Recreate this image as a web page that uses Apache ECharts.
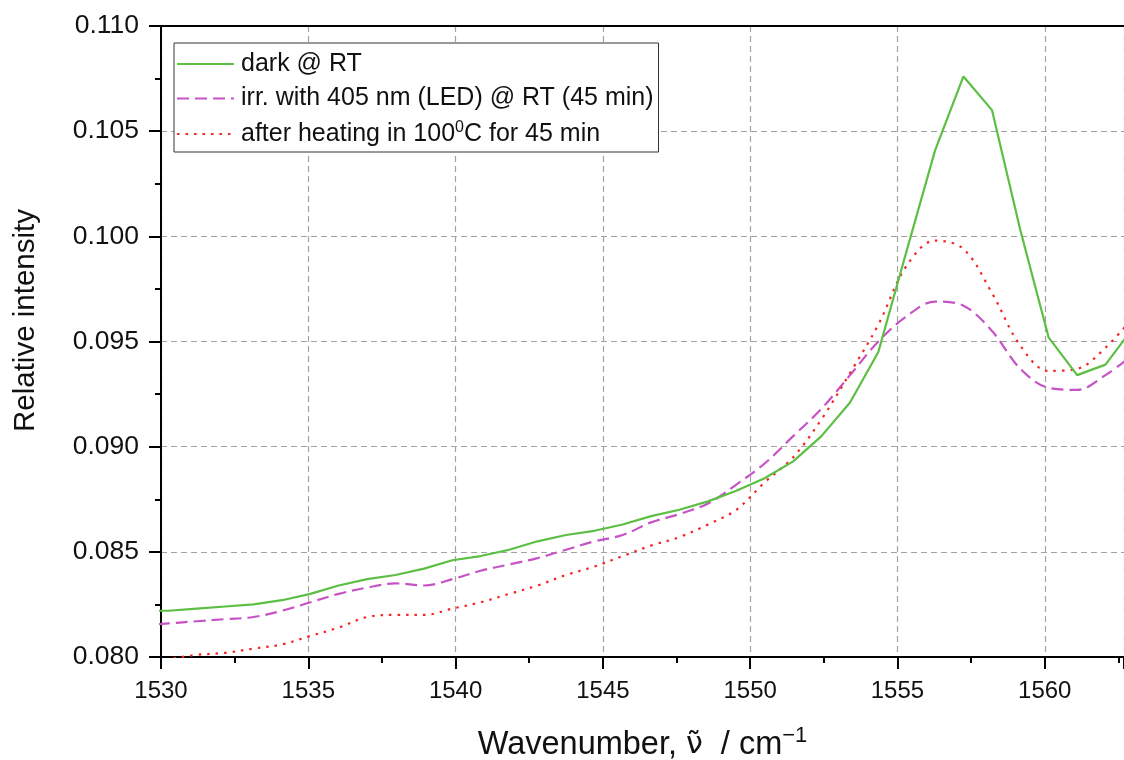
<!DOCTYPE html>
<html>
<head>
<meta charset="utf-8">
<script src="https://cdn.jsdelivr.net/npm/echarts@6/dist/echarts.min.js"></script>
<style>
  html, body { margin: 0; padding: 0; background: #ffffff; }
  #chart { width: 1124px; height: 760px; }
</style>
</head>
<body>
<div id="chart"></div>
<script>
// Wavenumber sampling (cm^-1)
const wavenumbers = [
  1529.28, 1530.25, 1531.21, 1532.18, 1533.14, 1534.11, 1535.07, 1536.03, 1537.00,
  1537.96, 1538.93, 1539.89, 1540.85, 1541.82, 1542.78, 1543.75, 1544.71, 1545.67,
  1546.64, 1547.60, 1548.57, 1549.53, 1550.49, 1551.46, 1552.42, 1553.39, 1554.35,
  1555.31, 1556.28, 1557.24, 1558.21, 1559.17, 1560.13, 1561.10, 1562.06, 1563.03
];

// Relative intensity, kept in the dark at room temperature
const darkRT = [
  0.0822, 0.0822, 0.0823, 0.0824, 0.0825, 0.0827, 0.0830, 0.0834, 0.0837,
  0.0839, 0.0842, 0.0846, 0.0848, 0.0851, 0.0855, 0.0858, 0.0860, 0.0863,
  0.0867, 0.0870, 0.0874, 0.0879, 0.0885, 0.0893, 0.0905, 0.0921, 0.0945,
  0.0993, 0.1041, 0.1076, 0.1060, 0.1003, 0.0952, 0.0934, 0.0939, 0.0957
];

// Relative intensity after 45 min irradiation with the 405 nm LED
const irradiated = [
  0.0815, 0.0816, 0.0817, 0.0818, 0.0819, 0.0822, 0.0826, 0.0830, 0.0833,
  0.0835, 0.0834, 0.0837, 0.0841, 0.0844, 0.0847, 0.0851, 0.0855, 0.0858,
  0.0864, 0.0868, 0.0873, 0.0882, 0.0892, 0.0905, 0.0918, 0.0934, 0.0950,
  0.0962, 0.0969, 0.0967, 0.0955, 0.0937, 0.0928, 0.0927, 0.0934, 0.0944
];

// Relative intensity after heating at 100 °C for 45 min
const heated = [
  0.0797, 0.0799, 0.0801, 0.0802, 0.0804, 0.0806, 0.0810, 0.0814, 0.0819,
  0.0820, 0.0820, 0.0823, 0.0826, 0.0830, 0.0834, 0.0839, 0.0843, 0.0848,
  0.0853, 0.0857, 0.0863, 0.0870, 0.0883, 0.0895, 0.0913, 0.0935, 0.0958,
  0.0986, 0.0998, 0.0994, 0.0973, 0.0948, 0.0936, 0.0937, 0.0947, 0.0962
];

const seriesNames = [
  'dark @ RT',
  'irr. with 405 nm (LED) @ RT (45 min)',
  'after heating in 100 C for 45 min'
];
const legendLabels = [
  'dark @ RT',
  'irr. with 405 nm (LED) @ RT (45 min)',
  'after heating in 100{sup|0}C for 45 min'
];

const FONT = '"Liberation Sans", Arial, Helvetica, sans-serif';
const pairs = (ys) => wavenumbers.map((w, i) => [w, ys[i]]);

const chart = echarts.init(document.getElementById('chart'), null, { renderer: 'canvas' });

const gridLine = { show: true, lineStyle: { color: '#a3a3a3', width: 1.2, type: [6, 4] } };

chart.setOption({
  backgroundColor: '#ffffff',
  animation: false,
  textStyle: { fontFamily: FONT },
  grid: { left: 161, right: 0, top: 26, bottom: 103, containLabel: false, outerBoundsMode: 'none' },
  legend: {
    orient: 'vertical',
    left: 174,
    top: 43,
    padding: [8, 5, 5, 2],
    itemWidth: 57,
    itemHeight: 14,
    itemGap: 8.5,
    backgroundColor: '#ffffff',
    borderColor: '#333333',
    borderWidth: 1,
    borderRadius: 0,
    data: seriesNames,
    itemStyle: { opacity: 0 },
    formatter: (name) => legendLabels[seriesNames.indexOf(name)],
    textStyle: {
      fontFamily: FONT,
      fontSize: 25,
      color: '#111111',
      lineHeight: 26,
      padding: [0, 0, 0, 2],
      rich: {
        sup: { fontFamily: FONT, fontSize: 16, color: '#111111', padding: [0, 0, 12, 0] }
      }
    }
  },
  xAxis: [
    {
      type: 'value',
      position: 'bottom',
      min: 1530,
      max: 1562.69,
      interval: 5,
      name: 'Wavenumber, {nu|\u03BD\u0303}  / cm{sup|\u22121}',
      nameLocation: 'middle',
      nameGap: 68,
      nameTextStyle: {
        fontFamily: FONT,
        fontSize: 32.5,
        color: '#111111',
        rich: {
          nu: { fontFamily: '"DejaVu Sans", sans-serif', fontSize: 30, color: '#111111' },
          sup: { fontFamily: FONT, fontSize: 22, color: '#111111', padding: [0, 0, 18, 0] }
        }
      },
      axisLine: { show: true, onZero: false, lineStyle: { color: '#000000', width: 2 } },
      axisTick: { show: true, inside: false, length: 12, lineStyle: { color: '#000000', width: 2 } },
      minorTick: { show: true, splitNumber: 2, length: 6, lineStyle: { color: '#000000', width: 2 } },
      axisLabel: {
        show: true,
        margin: 22,
        fontFamily: FONT,
        fontSize: 24,
        color: '#111111',
        showMaxLabel: false,
        formatter: (v) => String(v)
      },
      splitLine: gridLine
    },
    {
      type: 'value',
      position: 'top',
      min: 1530,
      max: 1562.69,
      axisLine: { show: true, onZero: false, lineStyle: { color: '#000000', width: 2 } },
      axisTick: { show: false },
      axisLabel: { show: false },
      splitLine: { show: false }
    }
  ],
  yAxis: {
    type: 'value',
    min: 0.080,
    max: 0.110,
    interval: 0.005,
    name: 'Relative intensity',
    nameLocation: 'middle',
    nameGap: 120,
    nameRotate: 90,
    nameTextStyle: {
      fontFamily: FONT,
      fontSize: 29.5,
      color: '#111111',
      padding: [0, 0, 0, 42]
    },
    axisLine: { show: true, onZero: false, lineStyle: { color: '#000000', width: 2 } },
    axisTick: { show: true, inside: false, length: 12, lineStyle: { color: '#000000', width: 2 } },
    minorTick: { show: true, splitNumber: 2, length: 6, lineStyle: { color: '#000000', width: 2 } },
    axisLabel: {
      margin: 22,
      fontFamily: FONT,
      fontSize: 26.5,
      color: '#111111',
      formatter: (v) => v.toFixed(3)
    },
    splitLine: gridLine
  },
  series: [
    {
      name: seriesNames[0],
      type: 'line',
      data: pairs(darkRT),
      symbol: 'none',
      z: 4,
      lineStyle: { color: '#5cbf44', width: 2.2, type: 'solid' },
      itemStyle: { color: '#5cbf44' }
    },
    {
      name: seriesNames[1],
      type: 'line',
      data: pairs(irradiated),
      symbol: 'none',
      smooth: 0.35,
      z: 3,
      lineStyle: { color: '#c653c6', width: 2.2, type: [12, 6] },
      itemStyle: { color: '#c653c6' }
    },
    {
      name: seriesNames[2],
      type: 'line',
      data: pairs(heated),
      symbol: 'none',
      smooth: 0.35,
      z: 3,
      lineStyle: { color: '#f52525', width: 2.2, type: [2.5, 6] },
      itemStyle: { color: '#f52525' }
    }
  ]
});
</script>
</body>
</html>
